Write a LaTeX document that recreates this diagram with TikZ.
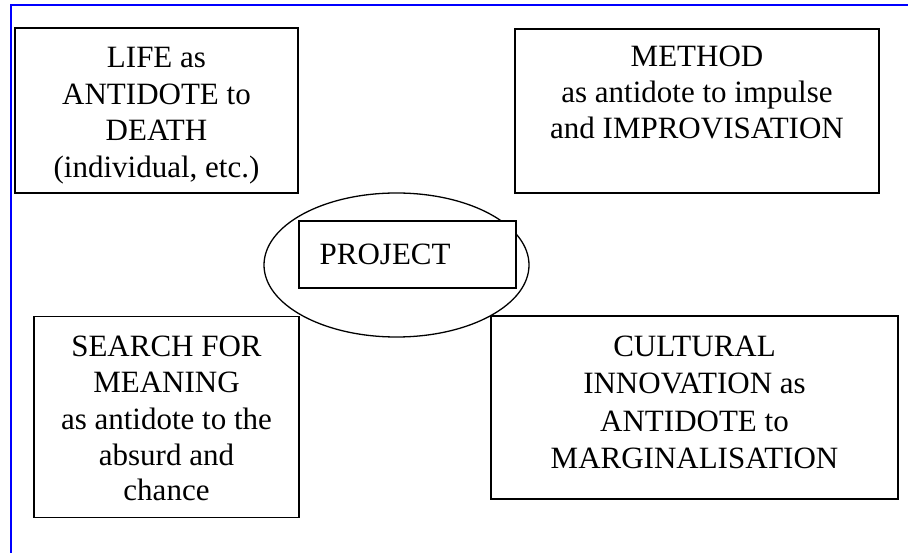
\documentclass[tikz,border=0pt]{standalone}
\usepackage{fontspec}
\setmainfont{Liberation Serif}
\usetikzlibrary{shapes.geometric}
\begin{document}
\begin{tikzpicture}[x=1pt,y=-1pt,
  box/.style={draw=black,line width=1.3pt,fill=white,rectangle,inner sep=0pt},
  txt/.style={anchor=base,inner sep=0pt,font=\fontsize{31}{37}\selectfont},
  ring/.style={draw=black,line width=1.3pt}]
\useasboundingbox (0,0) rectangle (908,553);
\coordinate (fa) at (908,4.8);
\coordinate (fb) at (11,4.8);
\coordinate (fc) at (11,553);
\draw[blue,line width=1.6pt] (fa) -- (fb) -- (fc);
% central ellipse
\node[ring,ellipse,minimum width=265pt,minimum height=144pt,inner sep=0pt] (ring) at (396.5,265) {};
% boxes
\node[box,minimum width=283pt,minimum height=165pt] (life) at (156.5,110.5) {};
\node[box,minimum width=364pt,minimum height=164pt] (method) at (697,111) {};
\node[box,minimum width=265pt,minimum height=201pt] (search) at (166.5,417) {};
\node[box,minimum width=407pt,minimum height=183pt] (cult) at (694.5,407.5) {};
\node[box,minimum width=217pt,minimum height=67pt] (proj) at (407.5,254.5) {};
% texts
\node[txt] (l1) at (156.5,68) {LIFE as};
\node[txt] (l2) at (156.5,104.5) {ANTIDOTE to};
\node[txt] (l3) at (156.5,141) {DEATH};
\node[txt] (l4) at (156.5,177.5) {(individual, etc.)};
\node[txt] (m1) at (697,66.5) {METHOD};
\node[txt] (m2) at (697,102.5) {as antidote to impulse};
\node[txt] (m3) at (697,138.5) {and IMPROVISATION};
\node[txt] (s1) at (166.5,356) {SEARCH FOR};
\node[txt] (s2) at (166.5,392.5) {MEANING};
\node[txt] (s3) at (166.5,429) {as antidote to the};
\node[txt] (s4) at (166.5,465) {absurd and};
\node[txt] (s5) at (166.5,500.5) {chance};
\node[txt] (c1) at (694.5,357) {CULTURAL};
\node[txt] (c2) at (694.5,394) {INNOVATION as};
\node[txt] (c3) at (694.5,431) {ANTIDOTE to};
\node[txt] (c4) at (694.5,468) {MARGINALISATION};
\node[txt,anchor=base west] (p1) at (319.5,264.5) {PROJECT};
\end{tikzpicture}
\end{document}
